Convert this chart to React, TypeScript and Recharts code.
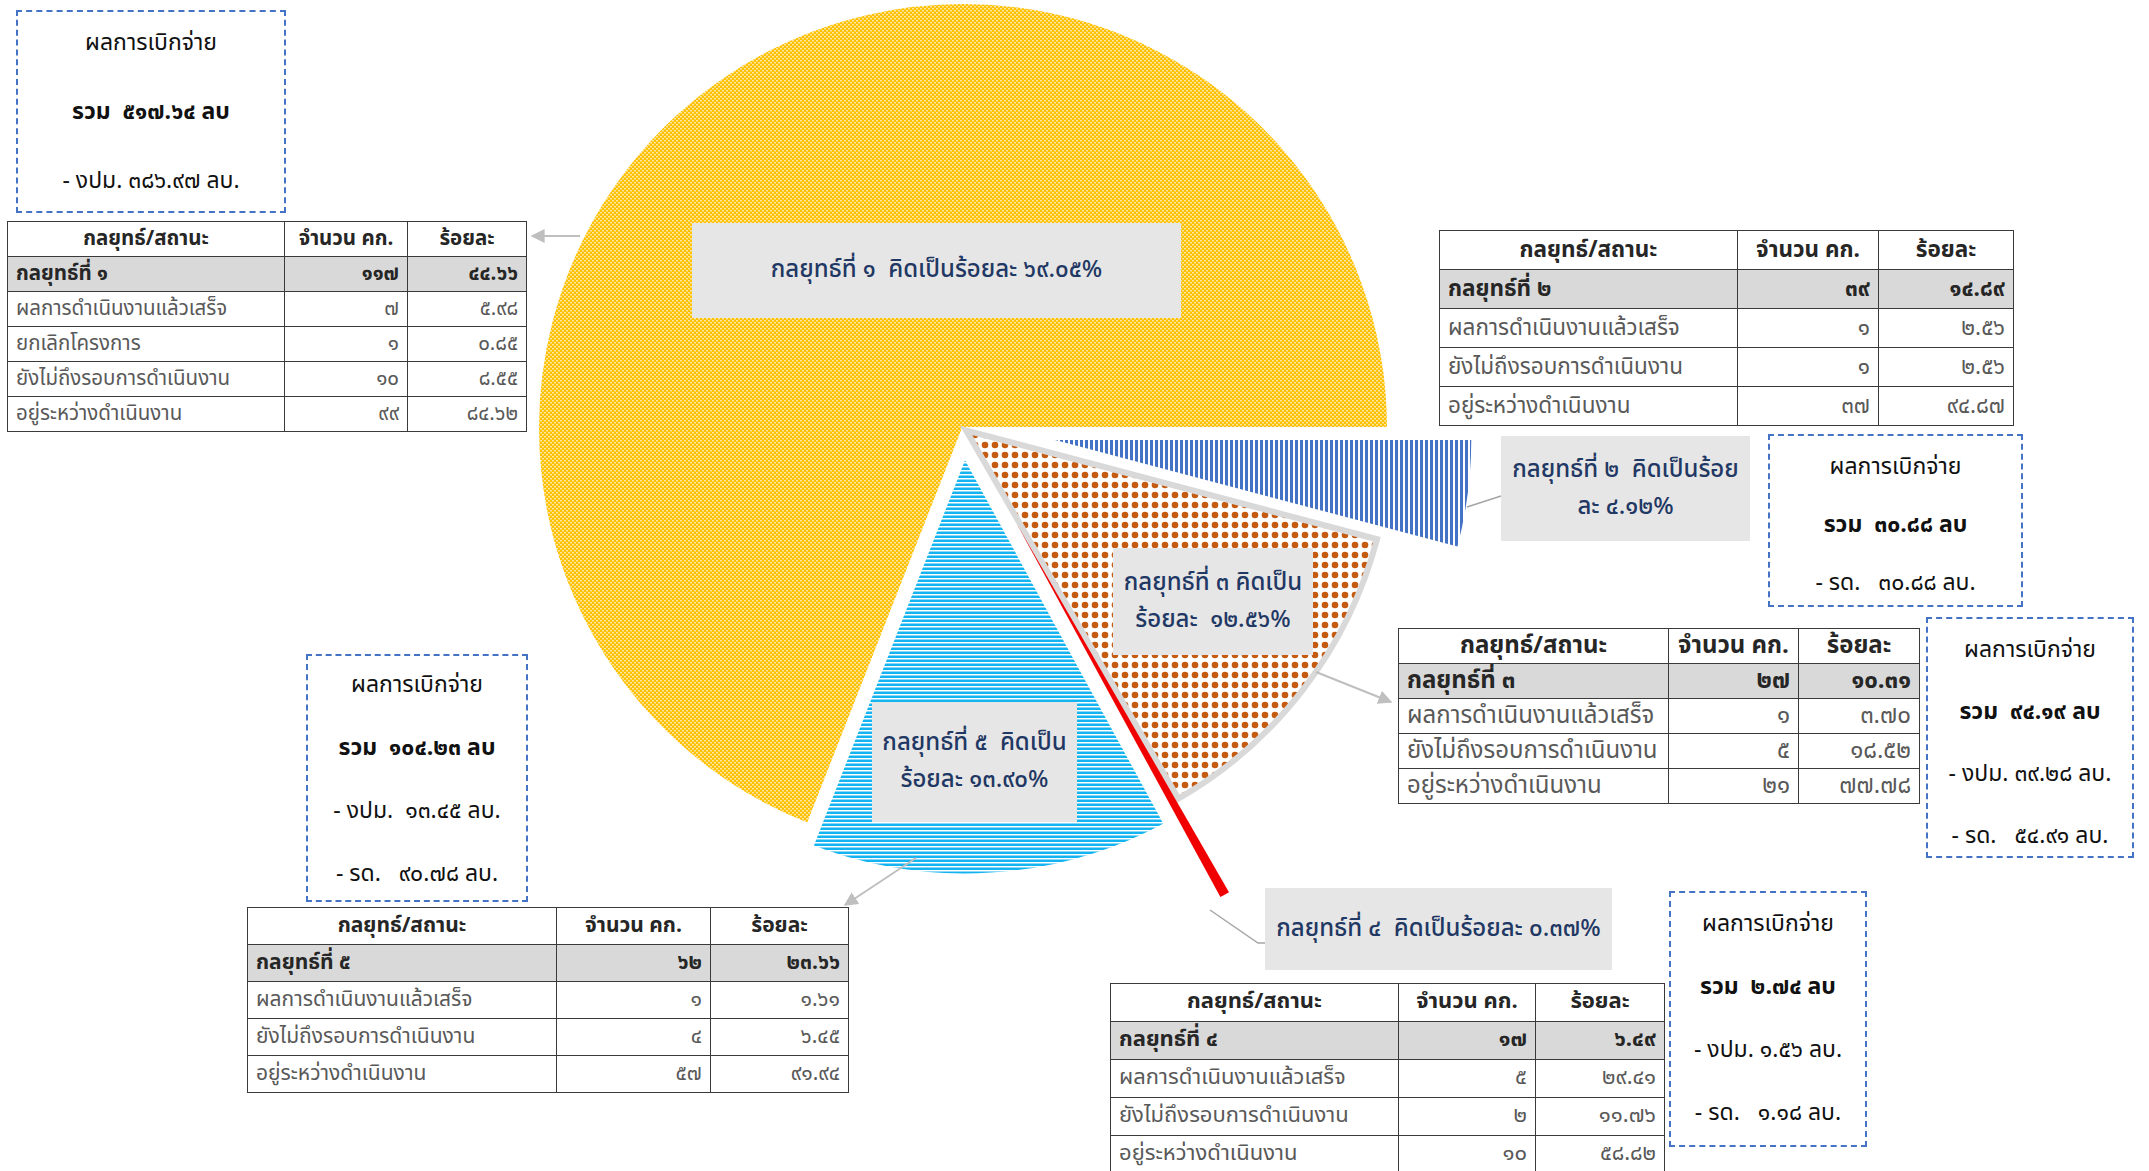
import React from 'react';
import { PieChart, Pie, Cell } from 'recharts';

const W = 2149;
const H = 1171;

// pie shares (ร้อยละ), order = กลยุทธ์ที่ ๑..๕
const STRATEGIES = ['กลยุทธ์ที่ ๑', 'กลยุทธ์ที่ ๒', 'กลยุทธ์ที่ ๓', 'กลยุทธ์ที่ ๔', 'กลยุทธ์ที่ ๕'];
const SHARES = [69.05, 4.12, 12.56, 0.37, 13.9];

const SHARE_LABELS = [
  ['กลยุทธ์ที่ ๑  คิดเป็นร้อยละ ๖๙.๐๕%'],
  ['กลยุทธ์ที่ ๒  คิดเป็นร้อย', 'ละ ๔.๑๒%'],
  ['กลยุทธ์ที่ ๓ คิดเป็น', 'ร้อยละ  ๑๒.๕๖%'],
  ['กลยุทธ์ที่ ๔  คิดเป็นร้อยละ ๐.๓๗%'],
  ['กลยุทธ์ที่ ๕  คิดเป็น', 'ร้อยละ ๑๓.๙๐%'],
];

// table data
const HEADERS = ['กลยุทธ์/สถานะ', 'จำนวน คก.', 'ร้อยละ'];
const DONE = 'ผลการดำเนินงานแล้วเสร็จ';
const CANCEL = 'ยกเลิกโครงการ';
const NOT_YET = 'ยังไม่ถึงรอบการดำเนินงาน';
const IN_PROGRESS = 'อยู่ระหว่างดำเนินงาน';

const T1_STATUS = [DONE, CANCEL, NOT_YET, IN_PROGRESS];
const T1_COUNT = ['๗', '๑', '๑๐', '๙๙'];
const T1_PCT = ['๕.๙๘', '๐.๘๕', '๘.๕๕', '๘๔.๖๒'];
const T1_TOTAL = ['๑๑๗', '๔๔.๖๖'];

const T2_STATUS = [DONE, NOT_YET, IN_PROGRESS];
const T2_COUNT = ['๑', '๑', '๓๗'];
const T2_PCT = ['๒.๕๖', '๒.๕๖', '๙๔.๘๗'];
const T2_TOTAL = ['๓๙', '๑๔.๘๙'];

const T3_STATUS = [DONE, NOT_YET, IN_PROGRESS];
const T3_COUNT = ['๑', '๕', '๒๑'];
const T3_PCT = ['๓.๗๐', '๑๘.๕๒', '๗๗.๗๘'];
const T3_TOTAL = ['๒๗', '๑๐.๓๑'];

const T4_STATUS = [DONE, NOT_YET, IN_PROGRESS];
const T4_COUNT = ['๕', '๒', '๑๐'];
const T4_PCT = ['๒๙.๔๑', '๑๑.๗๖', '๕๘.๘๒'];
const T4_TOTAL = ['๑๗', '๖.๔๙'];

const T5_STATUS = [DONE, NOT_YET, IN_PROGRESS];
const T5_COUNT = ['๑', '๔', '๕๗'];
const T5_PCT = ['๑.๖๑', '๖.๔๕', '๙๑.๙๔'];
const T5_TOTAL = ['๖๒', '๒๓.๖๖'];

// disbursement boxes
const PAY_TITLE = 'ผลการเบิกจ่าย';
const PAY_TOTAL = ['๕๑๗.๖๔', '๓๐.๘๘', '๙๔.๑๙', '๒.๗๔', '๑๐๔.๒๓'];
const PAY_LINES = [
  ['- งปม. ๓๘๖.๙๗ ลบ.'],
  ['- รด.   ๓๐.๘๘ ลบ.'],
  ['- งปม. ๓๙.๒๘ ลบ.', '- รด.   ๕๔.๙๑ ลบ.'],
  ['- งปม. ๑.๕๖ ลบ.', '- รด.   ๑.๑๘ ลบ.'],
  ['- งปม.  ๑๓.๔๕ ลบ.', '- รด.   ๙๐.๗๘ ลบ.'],
];

const FONT = "'Noto Sans Thai', 'Noto Sans', 'DejaVu Sans', sans-serif";

const CX = 963;
const CY = 428;
const R = 425;
const EXPLODE = [0, 85, 4, 110, 24];
const FILLS = ['url(#pYellow)', 'url(#pBlue)', 'url(#pOrange)', '#F00000', 'url(#pCyan)'];
const STROKES = ['#ffffff', '#ffffff', '#D9D9D9', '#ffffff', '#ffffff'];
const STROKE_W = [2, 2, 6, 0, 7];
const DRAW_ORDER = [0, 2, 4, 3, 1];

const pieData = STRATEGIES.map((name, i) => ({ name, value: SHARES[i] }));
const total = SHARES.reduce((a, b) => a + b, 0);
const START = (360 * SHARES[0]) / total;

function midAngle(i: number) {
  let cum = 0;
  for (let k = 0; k < i; k++) cum += SHARES[k];
  return START - (360 * (cum + SHARES[i] / 2)) / total;
}

function LabelBox({ x, y, w, h, lines, fs = 24 }: any) {
  return (
    <div
      style={{
        position: 'absolute', left: x, top: y, width: w, height: h, background: '#E7E6E6',
        color: '#1F3864', fontSize: fs, fontWeight: 500, display: 'flex', flexDirection: 'column',
        alignItems: 'center', justifyContent: 'center', lineHeight: '37px', textAlign: 'center',
      }}
    >
      {lines.map((l: string, i: number) => (
        <div key={i} style={{ whiteSpace: 'pre' }}>{l}</div>
      ))}
    </div>
  );
}

function PayBox({ x, y, w, h, idx, gap = 63, first = 31 }: any) {
  const lines = [PAY_TITLE, `รวม  ${PAY_TOTAL[idx]} ลบ`, ...PAY_LINES[idx]];
  return (
    <div
      style={{
        position: 'absolute', left: x, top: y, width: w, height: h, boxSizing: 'border-box',
        border: '2.5px dashed #4472C4', background: '#fff', overflow: 'hidden',
      }}
    >
      {lines.map((l, i) => (
        <div
          key={i}
          style={{
            position: 'absolute', left: 0, right: 0, top: first + i * gap - 18, height: 36,
            lineHeight: '36px', textAlign: 'center', fontSize: 23, whiteSpace: 'pre',
            fontWeight: i === 1 ? 700 : 400, color: '#111',
          }}
        >
          {l}
        </div>
      ))}
    </div>
  );
}

function StatTable({ x, y, cols, rowH, name, totals, status, counts, pcts, fs = 20 }: any) {
  const bd = '1.5px solid #3a3a3a';
  const cell = (extra: any) => ({
    border: bd, padding: '0 8px', height: rowH, boxSizing: 'border-box' as const,
    whiteSpace: 'nowrap' as const, overflow: 'hidden', lineHeight: 1.2, ...extra,
  });
  return (
    <table
      style={{
        position: 'absolute', left: x, top: y, borderCollapse: 'collapse', tableLayout: 'fixed',
        width: cols[0] + cols[1] + cols[2], fontSize: fs, background: '#fff',
      }}
    >
      <colgroup>
        {cols.map((c: number, i: number) => <col key={i} style={{ width: c }} />)}
      </colgroup>
      <tbody>
        <tr>
          {HEADERS.map((h, i) => (
            <td key={i} style={cell({ textAlign: 'center', fontWeight: 700, color: '#262626' })}>{h}</td>
          ))}
        </tr>
        <tr style={{ background: '#D9D9D9' }}>
          <td style={cell({ fontWeight: 700, color: '#262626' })}>{name}</td>
          <td style={cell({ textAlign: 'right', fontWeight: 700, color: '#262626' })}>{totals[0]}</td>
          <td style={cell({ textAlign: 'right', fontWeight: 700, color: '#262626' })}>{totals[1]}</td>
        </tr>
        {status.map((s: string, i: number) => (
          <tr key={i}>
            <td style={cell({ color: '#595959' })}>{s}</td>
            <td style={cell({ textAlign: 'right', color: '#595959' })}>{counts[i]}</td>
            <td style={cell({ textAlign: 'right', color: '#595959' })}>{pcts[i]}</td>
          </tr>
        ))}
      </tbody>
    </table>
  );
}

export default function App() {
  return (
    <div style={{ position: 'absolute', left: 0, top: 0, width: W, height: H, overflow: 'hidden', fontFamily: FONT, background: '#fff' }}>
      <PieChart width={W} height={H} margin={{ top: 0, right: 0, bottom: 0, left: 0 }}>
        <defs>
          <pattern id="pYellow" width="4" height="4" patternUnits="userSpaceOnUse">
            <rect width="4" height="4" fill="#FFC000" />
            <rect x="0" y="0" width="2" height="1.5" fill="#FFE7A0" />
            <rect x="2" y="2" width="2" height="1.5" fill="#FFE7A0" />
          </pattern>
          <pattern id="pBlue" width="5" height="5" patternUnits="userSpaceOnUse">
            <rect width="5" height="5" fill="#ffffff" />
            <rect width="3" height="5" fill="#4472C4" />
          </pattern>
          <pattern id="pCyan" width="4" height="4" patternUnits="userSpaceOnUse">
            <rect width="4" height="4" fill="#14B4F0" />
            <rect y="2" width="4" height="1" fill="#ffffff" />
            <rect y="3" width="4" height="1" fill="#8AD8F7" />
          </pattern>
          <pattern id="pOrange" width="10" height="10" patternUnits="userSpaceOnUse">
            <rect width="10" height="10" fill="#ffffff" />
            <circle cx="5" cy="5" r="3.3" fill="#C55A11" />
          </pattern>
        </defs>
        {DRAW_ORDER.map((i) => {
          const a = (midAngle(i) * Math.PI) / 180;
          return (
            <Pie
              key={i}
              data={pieData}
              dataKey="value"
              nameKey="name"
              cx={CX + EXPLODE[i] * Math.cos(a)}
              cy={CY - EXPLODE[i] * Math.sin(a)}
              outerRadius={R}
              innerRadius={0}
              startAngle={START}
              endAngle={START - 360}
              isAnimationActive={false}
              label={false}
              labelLine={false}
            >
              {pieData.map((d, j) => (
                <Cell
                  key={d.name}
                  fill={j === i ? FILLS[i] : 'none'}
                  stroke={j === i ? STROKES[i] : 'none'}
                  strokeWidth={j === i ? STROKE_W[i] : 0}
                />
              ))}
            </Pie>
          );
        })}
      </PieChart>

      <svg width={W} height={H} style={{ position: 'absolute', left: 0, top: 0, pointerEvents: 'none' }}>
        <defs>
          <marker id="arr" viewBox="0 0 10 10" refX="9" refY="5" markerWidth="7" markerHeight="7" orient="auto">
            <path d="M0,0 L10,5 L0,10 z" fill="#BFBFBF" />
          </marker>
        </defs>
        <line x1={580} y1={236} x2={532} y2={236} stroke="#BFBFBF" strokeWidth={2} markerEnd="url(#arr)" />
        <line x1={1316} y1={672} x2={1391} y2={702} stroke="#BFBFBF" strokeWidth={2} markerEnd="url(#arr)" />
        <line x1={916} y1={858} x2={845} y2={905} stroke="#BFBFBF" strokeWidth={2} markerEnd="url(#arr)" />
        <polyline points="1467,507 1501,496" fill="none" stroke="#A6A6A6" strokeWidth={1.5} />
        <polyline points="1210,910 1258,943 1265,943" fill="none" stroke="#A6A6A6" strokeWidth={1.5} />
      </svg>

      <PayBox x={16} y={10} w={270} h={203} idx={0} gap={69} first={31} />
      <StatTable x={7} y={221} cols={[277, 123, 119]} rowH={35} name={STRATEGIES[0]} totals={T1_TOTAL} status={T1_STATUS} counts={T1_COUNT} pcts={T1_PCT} fs={20.5} />
      <LabelBox x={692} y={223} w={489} h={95} lines={SHARE_LABELS[0]} />

      <StatTable x={1439} y={230} cols={[298, 141, 135]} rowH={39} name={STRATEGIES[1]} totals={T2_TOTAL} status={T2_STATUS} counts={T2_COUNT} pcts={T2_PCT} fs={22.5} />
      <LabelBox x={1501} y={436} w={249} h={105} lines={SHARE_LABELS[1]} />
      <PayBox x={1768} y={434} w={255} h={173} idx={1} gap={58} first={31} />

      <LabelBox x={1113} y={548} w={200} h={107} lines={SHARE_LABELS[2]} />
      <StatTable x={1398} y={628} cols={[270, 130, 121]} rowH={35} name={STRATEGIES[2]} totals={T3_TOTAL} status={T3_STATUS} counts={T3_COUNT} pcts={T3_PCT} fs={24} />
      <PayBox x={1926} y={617} w={208} h={241} idx={2} gap={62} first={31} />

      <LabelBox x={872} y={702} w={205} h={120} lines={SHARE_LABELS[4]} />
      <PayBox x={306} y={654} w={222} h={248} idx={4} gap={63} first={29} />
      <StatTable x={247} y={907} cols={[309, 154, 138]} rowH={37} name={STRATEGIES[4]} totals={T5_TOTAL} status={T5_STATUS} counts={T5_COUNT} pcts={T5_PCT} fs={21} />

      <LabelBox x={1265} y={888} w={347} h={82} lines={SHARE_LABELS[3]} />
      <StatTable x={1110} y={983} cols={[288, 137, 129]} rowH={38} name={STRATEGIES[3]} totals={T4_TOTAL} status={T4_STATUS} counts={T4_COUNT} pcts={T4_PCT} fs={22} />
      <PayBox x={1669} y={891} w={198} h={256} idx={3} gap={63} first={31} />
    </div>
  );
}
